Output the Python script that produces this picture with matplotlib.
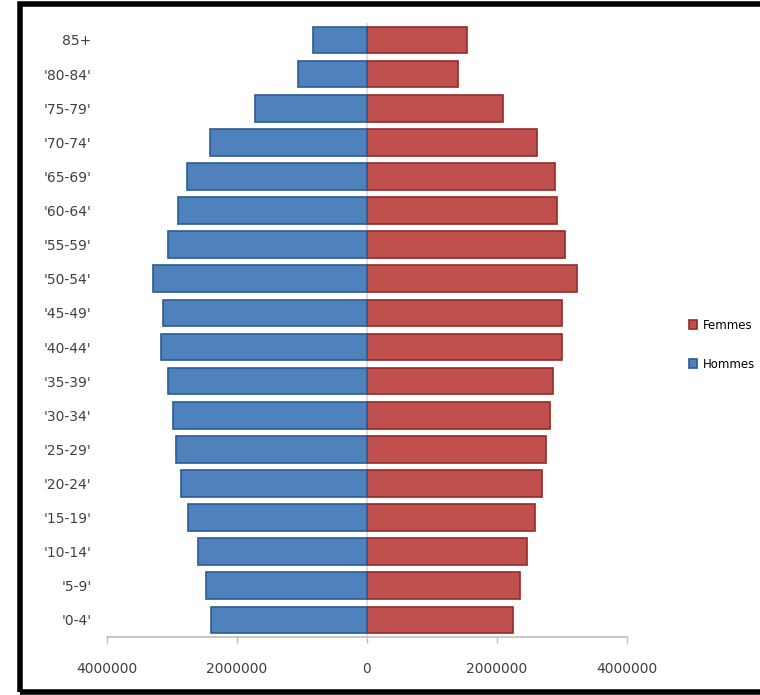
import numpy as np
import matplotlib.pyplot as plt
from matplotlib.patches import Rectangle
from matplotlib.ticker import FuncFormatter

# age groups, youngest first
ages = ["'0-4'", "'5-9'", "'10-14'", "'15-19'", "'20-24'", "'25-29'",
        "'30-34'", "'35-39'", "'40-44'", "'45-49'", "'50-54'", "'55-59'",
        "'60-64'", "'65-69'", "'70-74'", "'75-79'", "'80-84'", "85+"]

hommes = [2400000, 2480000, 2600000, 2750000, 2860000, 2940000,
          2980000, 3060000, 3170000, 3140000, 3290000, 3060000,
          2910000, 2770000, 2420000, 1720000, 1060000, 830000]

femmes = [2250000, 2350000, 2460000, 2580000, 2690000, 2760000,
          2820000, 2860000, 3000000, 3000000, 3230000, 3050000,
          2920000, 2890000, 2620000, 2090000, 1400000, 1540000]

xticks = [-4000000, -2000000, 0, 2000000, 4000000]

blue = '#4F81BD'
blue_edge = '#2C5B94'
red = '#C0504D'
red_edge = '#972A27'

fig = plt.figure(figsize=(7.6, 6.95), dpi=100)
ax = fig.add_axes([0.1408, 0.0835, 0.684, 0.8835])

y = np.arange(len(ages))
ax.barh(y, femmes, height=0.78, color=red, edgecolor=red_edge, linewidth=1.2,
        label='Femmes', zorder=3)
ax.barh(y, -np.array(hommes), height=0.78, color=blue, edgecolor=blue_edge,
        linewidth=1.2, label='Hommes', zorder=3)

ax.axvline(0, color='#D9D9D9', lw=1.2, zorder=1)

ax.set_xlim(-4000000, 4000000)
ax.set_ylim(-0.5, len(ages) - 0.5)
ax.set_yticks(y)
ax.set_yticklabels(ages, fontsize=10, color='#404040')
ax.set_xticks(xticks)
ax.xaxis.set_major_formatter(FuncFormatter(lambda v, p: f'{abs(int(v))}'))
ax.tick_params(axis='x', labelsize=10, colors='#404040', length=4,
               width=1, color='#BFBFBF', pad=14)
ax.tick_params(axis='y', length=0, pad=11)

for s in ['top', 'right', 'left']:
    ax.spines[s].set_visible(False)
ax.spines['bottom'].set_color('#BFBFBF')
ax.spines['bottom'].set_linewidth(1.2)

handles, labels = ax.get_legend_handles_labels()
fig.legend(handles, labels, loc='center left', bbox_to_anchor=(0.9, 0.504),
           frameon=False, fontsize=8.5, handlelength=0.7, handleheight=0.7,
           handletextpad=0.5, labelspacing=2.2, borderaxespad=0)

# outer frame
fig.patches.append(Rectangle((0.026, 0.004), 1.2, 0.99, transform=fig.transFigure,
                             fill=False, edgecolor='black', linewidth=4))

fig.savefig('out.png', dpi=100)
